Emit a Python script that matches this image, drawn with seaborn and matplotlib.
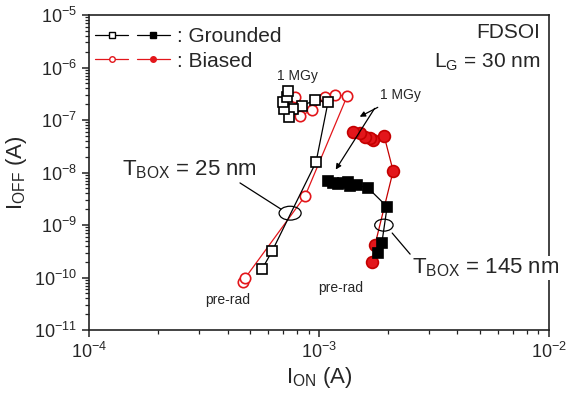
import numpy as np
import pandas as pd
import seaborn as sns
import matplotlib.pyplot as plt
from matplotlib.lines import Line2D
from matplotlib.legend_handler import HandlerTuple
from matplotlib.patches import Ellipse
from matplotlib.ticker import LogLocator, NullFormatter

# T_BOX = 25 nm, grounded (open squares), pre-rad -> 1 MGy
gnd25_ion = [5.65e-4, 6.25e-4, 9.7e-4, 1.094e-3, 9.6e-4, 8.4e-4, 7.7e-4,
             7.41e-4, 7.05e-4, 6.97e-4, 7.26e-4, 7.33e-4]
gnd25_ioff = [1.45e-10, 3.2e-10, 1.58e-8, 2.2e-7, 2.4e-7, 1.85e-7, 1.62e-7,
              1.14e-7, 1.62e-7, 2.2e-7, 2.74e-7, 3.56e-7]

# T_BOX = 25 nm, biased (open circles)
bias25_ion = [4.68e-4, 4.77e-4, 8.69e-4, 1.325e-3, 1.175e-3, 1.062e-3,
              9.33e-4, 8.26e-4, 7.63e-4, 7.86e-4]
bias25_ioff = [8.2e-11, 9.8e-11, 3.56e-9, 2.86e-7, 2.99e-7, 2.74e-7,
               1.55e-7, 1.19e-7, 1.93e-7, 2.74e-7]

# T_BOX = 145 nm, grounded (filled squares)
gnd145_ion = [1.807e-3, 1.875e-3, 1.977e-3, 1.634e-3, 1.459e-3, 1.364e-3,
              1.337e-3, 1.271e-3, 1.21e-3, 1.151e-3, 1.097e-3]
gnd145_ioff = [2.93e-10, 4.54e-10, 2.23e-9, 5.07e-9, 5.78e-9, 5.53e-9,
               6.68e-9, 6.3e-9, 6.04e-9, 6.3e-9, 6.98e-9]

# T_BOX = 145 nm, biased (filled circles)
bias145_ion = [1.698e-3, 1.75e-3, 2.1e-3, 1.919e-3, 1.718e-3, 1.667e-3,
               1.585e-3, 1.507e-3, 1.405e-3]
bias145_ioff = [1.97e-10, 4.16e-10, 1.07e-8, 4.96e-8, 4.16e-8, 4.54e-8,
                4.81e-8, 5.65e-8, 5.98e-8]

RED = '#e3161b'

sns.set_style('ticks')
plt.rcParams['font.family'] = ['Liberation Sans', 'DejaVu Sans']
plt.rcParams['mathtext.default'] = 'regular'

fig = plt.figure(figsize=(5.68, 4.05), dpi=100)
ax = fig.add_axes([0.157, 0.185, 0.8095, 0.778])


def draw(ion, ioff, marker, face, edge, ms):
    df = pd.DataFrame({'ion': ion, 'ioff': ioff})
    sns.lineplot(data=df, x='ion', y='ioff', sort=False, estimator=None, ax=ax,
                 color=edge, lw=0.9, marker=marker, markersize=ms,
                 markerfacecolor=face, markeredgecolor=edge, markeredgewidth=1.2)


draw(bias25_ion, bias25_ioff, 'o', 'white', RED, 7.5)
draw(gnd25_ion, gnd25_ioff, 's', 'white', 'black', 6.5)
draw(bias145_ion, bias145_ioff, 'o', RED, '#c40000', 8.5)
draw(gnd145_ion, gnd145_ioff, 's', 'black', 'black', 6.5)

ax.set_xscale('log')
ax.set_yscale('log')
ax.set_xlim(1e-4, 1e-2)
ax.set_ylim(1e-11, 1e-5)
ax.xaxis.set_minor_locator(LogLocator(base=10, subs=np.arange(2, 10), numticks=20))
ax.yaxis.set_minor_locator(LogLocator(base=10, subs=np.arange(2, 10), numticks=20))
ax.xaxis.set_minor_formatter(NullFormatter())
ax.yaxis.set_minor_formatter(NullFormatter())
ax.set_xlabel(r'I$_{ON}$ (A)', fontsize=16, labelpad=2)
ax.set_ylabel(r'I$_{OFF}$ (A)', fontsize=16, labelpad=4)
ax.tick_params(which='major', labelsize=13, length=5, width=1.1, direction='out',
               color='#222222', bottom=True, left=True)
ax.tick_params(which='minor', length=3, width=0.9, direction='out',
               color='#222222', bottom=True, left=True)
for s in ax.spines.values():
    s.set_visible(True)
    s.set_linewidth(1.2)
    s.set_color('#222222')

# legend
hg = (Line2D([], [], color='black', lw=0.9, marker='s', ms=4, mfc='white'),
      Line2D([], [], color='black', lw=0.9, marker='s', ms=4, mfc='black'))
hb = (Line2D([], [], color=RED, lw=0.9, marker='o', ms=4, mfc='white'),
      Line2D([], [], color=RED, lw=0.9, marker='o', ms=4, mfc=RED))
ax.legend([hg, hb], [': Grounded', ': Biased'],
          handler_map={tuple: HandlerTuple(ndivide=None, pad=0.4)},
          loc='upper left', bbox_to_anchor=(-0.028, 1.02), frameon=False,
          fontsize=15, handlelength=3.6, handletextpad=0.35, labelspacing=0.25)

# annotations
ax.text(0.98, 0.943, 'FDSOI', transform=ax.transAxes, ha='right', va='center', fontsize=15)
ax.text(0.98, 0.851, r'L$_G$ = 30 nm', transform=ax.transAxes, ha='right', va='center', fontsize=15)
ax.text(0.452, 0.806, '1 MGy', transform=ax.transAxes, ha='center', va='center', fontsize=10)
ax.text(0.676, 0.745, '1 MGy', transform=ax.transAxes, ha='center', va='center', fontsize=10)
ax.annotate('', xy=(0.583, 0.673), xytext=(0.633, 0.711), xycoords='axes fraction',
            arrowprops=dict(arrowstyle='-|>', color='black', lw=0.9, mutation_scale=8))
ax.annotate('', xy=(0.533, 0.502), xytext=(0.624, 0.711), xycoords='axes fraction',
            arrowprops=dict(arrowstyle='-|>', color='black', lw=0.9, mutation_scale=8))
ax.text(0.302, 0.095, 'pre-rad', transform=ax.transAxes, ha='center', va='center', fontsize=10)
ax.text(0.548, 0.133, 'pre-rad', transform=ax.transAxes, ha='center', va='center', fontsize=10)

ax.text(0.072, 0.508, r'T$_{BOX}$ = 25 nm', transform=ax.transAxes, ha='left', va='center', fontsize=16)
ax.plot([0.328, 0.417], [0.467, 0.384], transform=ax.transAxes, color='black', lw=0.9)
ax.add_patch(Ellipse((0.437, 0.371), 0.048, 0.044, transform=ax.transAxes,
                     fill=False, edgecolor='black', lw=0.9, zorder=5))

ax.text(0.702, 0.197, r'T$_{BOX}$ = 145 nm', transform=ax.transAxes, ha='left', va='center',
        fontsize=16, clip_on=False,
        bbox=dict(facecolor='white', edgecolor='none', pad=0.5), zorder=6)
ax.plot([0.659, 0.698], [0.308, 0.241], transform=ax.transAxes, color='black', lw=0.9)
ax.add_patch(Ellipse((0.641, 0.333), 0.04, 0.038, transform=ax.transAxes,
                     fill=False, edgecolor='black', lw=0.9, zorder=5))

fig.savefig('out.png', dpi=100)
